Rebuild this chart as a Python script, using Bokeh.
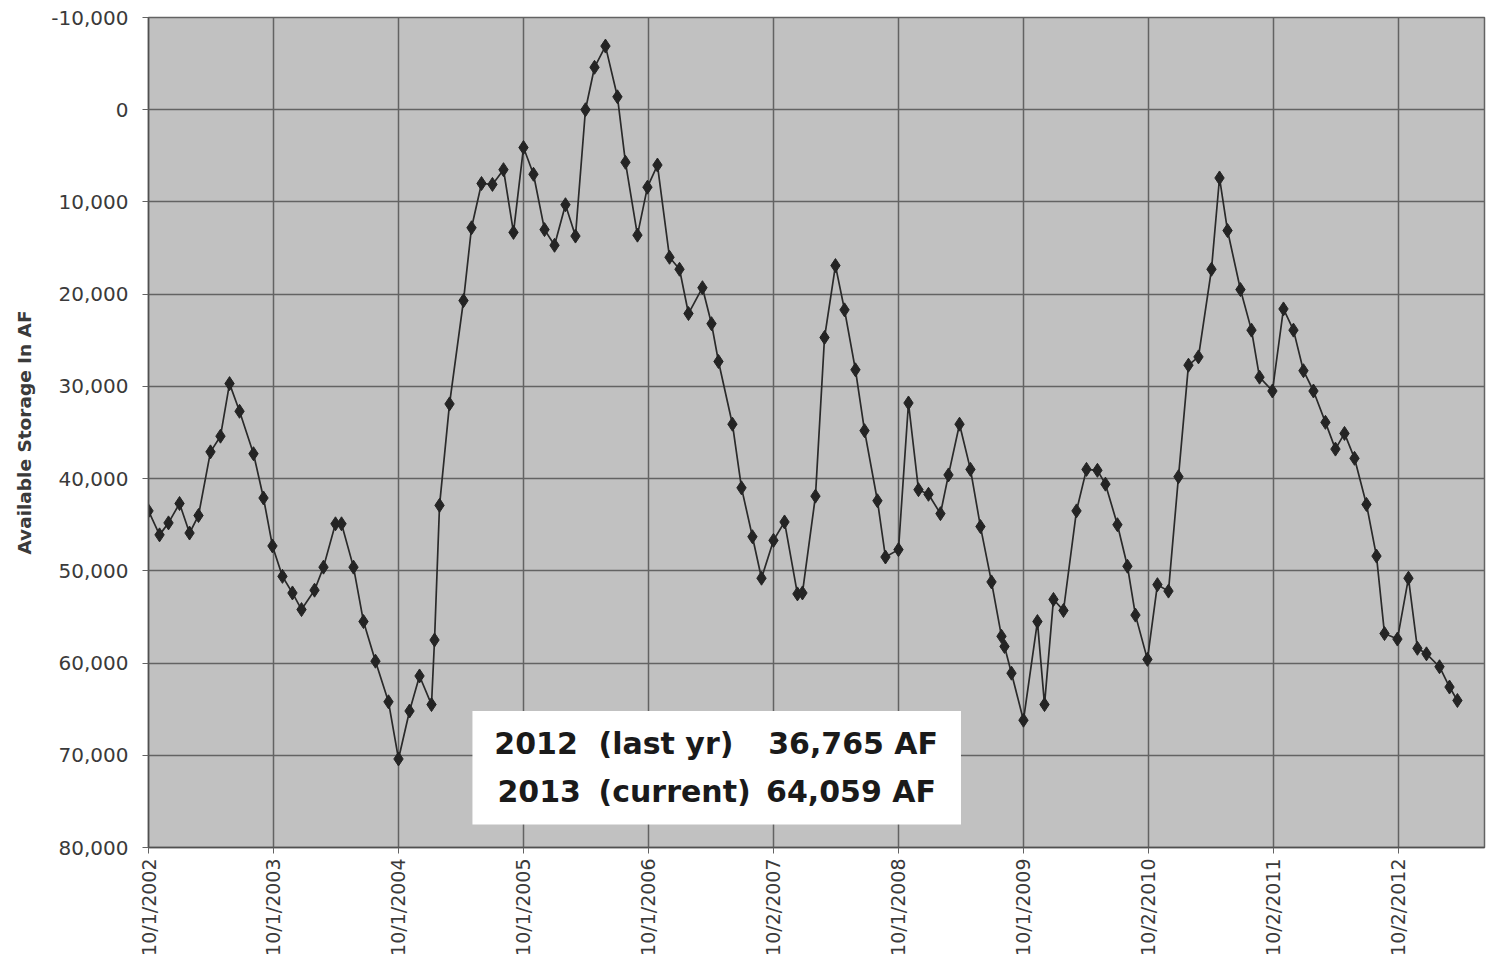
from math import pi
from bokeh.plotting import figure
from bokeh.models import Range1d, FixedTicker, NumeralTickFormatter, BoxAnnotation, Label, ColumnDataSource
from bokeh.embed import file_html
from bokeh.resources import INLINE

# months since 10/1/2002 (reading dates)
months = [0.0, 1.06, 1.92, 2.98, 3.94, 4.8, 5.95, 6.91, 7.78, 8.74, 10.08, 11.04, 11.9,
          12.86, 13.82, 14.69, 15.94, 16.8, 17.95, 18.53, 19.68, 20.64, 21.79, 23.04, 24.0,
          25.06, 26.02, 27.17, 27.46, 27.94, 28.9, 30.24, 31.01, 31.97, 33.02, 34.08, 35.04,
          36.0, 36.96, 38.02, 38.98, 40.03, 40.99, 41.95, 42.82, 43.87, 45.02, 45.79, 46.94,
          47.9, 48.86, 50.02, 50.98, 51.84, 53.18, 54.05, 54.72, 56.06, 56.93, 57.98, 58.85,
          60.0, 61.06, 62.3, 62.78, 64.03, 64.9, 65.95, 66.82, 67.87, 68.74, 69.98, 70.75,
          72.0, 72.96, 73.92, 74.88, 76.03, 76.8, 77.86, 78.91, 79.87, 80.93, 81.89, 82.18,
          82.85, 84.0, 85.34, 86.02, 86.88, 87.84, 89.09, 90.05, 91.1, 91.87, 93.02, 93.98,
          94.75, 95.9, 96.86, 97.92, 98.88, 99.84, 100.8, 102.05, 102.82, 103.59, 104.83,
          105.89, 106.66, 107.9, 108.96, 109.92, 110.88, 111.84, 112.99, 113.95, 114.82,
          115.78, 116.93, 117.89, 118.66, 119.9, 120.96, 121.82, 122.69, 123.94, 124.9, 125.66]

# available storage, acre-feet
storage = [43500, 46100, 44800, 42700, 45900, 44000, 37100, 35400, 29700, 32700, 37300, 42100, 47300,
           50600, 52400, 54200, 52100, 49600, 44900, 44900, 49600, 55500, 59800, 64200, 70400,
           65200, 61400, 64500, 57500, 42900, 31900, 20700, 12800, 8000, 8100, 6500, 13300,
           4100, 7000, 13000, 14700, 10300, 13700, 0, -4600, -6900, -1400, 5700, 13600,
           8400, 6000, 16000, 17300, 22100, 19300, 23200, 27300, 34100, 41000, 46300, 50800,
           46700, 44700, 52500, 52400, 41900, 24700, 16900, 21700, 28200, 34800, 42400, 48500,
           47700, 31800, 41200, 41700, 43800, 39600, 34100, 39000, 45200, 51200, 57100, 58200,
           61100, 66200, 55500, 64500, 53100, 54300, 43500, 39000, 39100, 40600, 45000, 49500,
           54800, 59600, 51500, 52200, 39800, 27700, 26800, 17300, 7400, 13100, 19500,
           23900, 29000, 30500, 21600, 23900, 28300, 30500, 33900, 36800, 35100,
           37800, 42800, 48400, 56800, 57400, 50800, 58400, 59000, 60400, 62600, 64059]

tick_months = [0, 12, 24, 36, 48, 60, 72, 84, 96, 108, 120]
tick_labels = ["10/1/2002", "10/1/2003", "10/1/2004", "10/1/2005", "10/1/2006", "10/2/2007",
               "10/1/2008", "10/1/2009", "10/2/2010", "10/2/2011", "10/2/2012"]
y_ticks = [-10000, 0, 10000, 20000, 30000, 40000, 50000, 60000, 70000, 80000]

note_years = ["2012", "2013"]
note_tags = ["(last yr)", "(current)"]
note_values = ["36,765 AF", "64,059 AF"]

FONT = "DejaVu Sans"
GRID = "#636363"

p = figure(width=1486, height=958, output_backend="svg", toolbar_location=None,
           x_range=Range1d(0, 128.26), y_range=Range1d(80000, -10000),
           min_border_left=148, min_border_right=2, min_border_top=17, min_border_bottom=110)
p.background_fill_color = "#c1c1c1"
p.border_fill_color = "white"
p.outline_line_color = GRID
p.outline_line_width = 1.5

p.xaxis.ticker = FixedTicker(ticks=tick_months)
p.xaxis.major_label_overrides = {m: t for m, t in zip(tick_months, tick_labels)}
p.xaxis.major_label_orientation = pi / 2
p.yaxis.ticker = FixedTicker(ticks=y_ticks)
p.yaxis.formatter = NumeralTickFormatter(format="0,0")
p.yaxis.axis_label = "Available Storage In AF"

for ax in (p.xaxis, p.yaxis):
    ax.axis_line_color = "#505050"
    ax.axis_line_width = 1.5
    ax.major_tick_line_color = GRID
    ax.major_tick_out = 6
    ax.major_tick_in = 0
    ax.minor_tick_line_color = None
    ax.major_label_text_font = FONT
    ax.major_label_text_color = "#3a3a3a"
p.xaxis.major_label_text_font_size = "19px"
p.yaxis.major_label_text_font_size = "20px"
p.xaxis.major_label_standoff = 5
p.yaxis.major_label_standoff = 14
p.yaxis.axis_label_text_font = FONT
p.yaxis.axis_label_text_font_size = "18.5px"
p.yaxis.axis_label_text_font_style = "bold"
p.yaxis.axis_label_text_color = "#3a3a3a"
p.yaxis.axis_label_standoff = 13

p.xgrid.ticker = FixedTicker(ticks=tick_months)
p.ygrid.ticker = FixedTicker(ticks=y_ticks)
for g in (p.xgrid, p.ygrid):
    g.grid_line_color = GRID
    g.grid_line_width = 1.5

src = ColumnDataSource(dict(x=months, y=storage))
p.line("x", "y", source=src, line_color="#2a2a2a", line_width=1.7)
p.scatter("x", "y", source=src, marker="diamond", size=14, fill_color="#242424", line_color="#242424")

# white note box
p.add_layout(BoxAnnotation(left=31.1, right=78.0, top=65200, bottom=77500,
                           fill_color="white", fill_alpha=1.0, line_color=None))
rows_y = [68700, 73900]
for i in range(2):
    common = dict(y=rows_y[i], text_font="DejaVu Sans", text_font_size="30px", text_font_style="bold",
                  text_color="#1a1a1a", text_baseline="middle")
    p.add_layout(Label(x=33.2 + 0.3 * i, text=note_years[i], text_align="left", **common))
    p.add_layout(Label(x=43.2, text=note_tags[i], text_align="left", **common))
    p.add_layout(Label(x=75.8 - 0.2 * i, text=note_values[i], text_align="right", **common))

open("out.html", "w").write(file_html(p, INLINE))
